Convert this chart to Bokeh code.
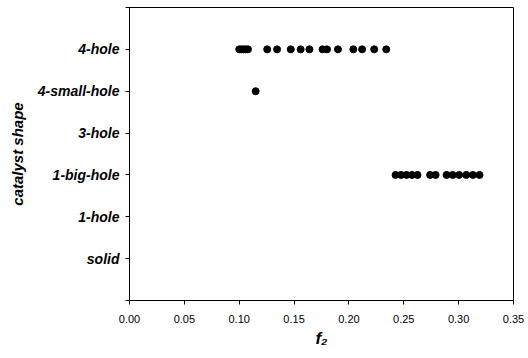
from bokeh.plotting import figure
from bokeh.models import FixedTicker, Range1d, ColumnDataSource
from bokeh.embed import file_html
from bokeh.resources import INLINE

categories = ["solid", "1-hole", "1-big-hole", "3-hole", "4-small-hole", "4-hole"]

f2_4hole = [0.100, 0.102, 0.104, 0.106, 0.108, 0.1255, 0.1345, 0.147, 0.156,
            0.164, 0.176, 0.180, 0.190, 0.204, 0.212, 0.223, 0.234]
f2_4small = [0.115]
f2_1big = [0.2425, 0.2475, 0.2525, 0.2575, 0.2625, 0.274, 0.279,
           0.289, 0.2945, 0.3005, 0.307, 0.313, 0.319]

xticks = [0.00, 0.05, 0.10, 0.15, 0.20, 0.25, 0.30, 0.35]

FONT = "Liberation Sans"

xs = f2_4hole + f2_4small + f2_1big
ys = ([categories.index("4-hole") + 1] * len(f2_4hole)
      + [categories.index("4-small-hole") + 1] * len(f2_4small)
      + [categories.index("1-big-hole") + 1] * len(f2_1big))
src = ColumnDataSource(dict(x=xs, y=ys))

p = figure(width=528, height=358, output_backend="svg", toolbar_location=None,
           x_range=Range1d(0, 0.35), y_range=Range1d(0, 7),
           min_border_left=129, min_border_right=15, min_border_top=7, min_border_bottom=58)

p.scatter("x", "y", source=src, size=7, color="black", marker="circle")

p.grid.visible = False
p.outline_line_color = "black"
p.outline_line_width = 1
p.background_fill_color = "white"
p.border_fill_color = "white"

# x axis
p.xaxis.ticker = FixedTicker(ticks=xticks)
p.xaxis.major_label_overrides = {t: f"{t:.2f}" for t in xticks}
p.xaxis.major_tick_out = 4
p.xaxis.major_tick_in = 0
p.xaxis.minor_tick_line_color = None
p.xaxis.major_label_text_font = FONT
p.xaxis.major_label_text_font_size = "11px"
p.xaxis.major_label_text_color = "black"
p.xaxis.major_label_standoff = 10
p.xaxis.axis_line_color = "black"
p.xaxis.major_tick_line_color = "black"
p.xaxis.axis_label = "f\u2082"
p.xaxis.axis_label_text_font = FONT
p.xaxis.axis_label_text_font_size = "17px"
p.xaxis.axis_label_text_font_style = "bold italic"
p.xaxis.axis_label_text_color = "black"
p.xaxis.axis_label_standoff = 3

# y axis
p.yaxis.ticker = FixedTicker(ticks=list(range(0, 8)))
overrides = {0: "", 7: ""}
for i, c in enumerate(categories):
    overrides[i + 1] = c
p.yaxis.major_label_overrides = overrides
p.yaxis.major_tick_out = 4
p.yaxis.major_tick_in = 0
p.yaxis.minor_tick_line_color = None
p.yaxis.major_label_text_font = FONT
p.yaxis.major_label_text_font_size = "14px"
p.yaxis.major_label_text_font_style = "bold italic"
p.yaxis.major_label_text_color = "black"
p.yaxis.major_label_standoff = 6
p.yaxis.axis_label = "catalyst shape"
p.yaxis.axis_label_text_font = FONT
p.yaxis.axis_label_text_font_size = "15px"
p.yaxis.axis_label_text_font_style = "bold italic"
p.yaxis.axis_label_text_color = "black"
p.yaxis.axis_label_standoff = 9

open("out.html", "w").write(file_html(p, INLINE))
